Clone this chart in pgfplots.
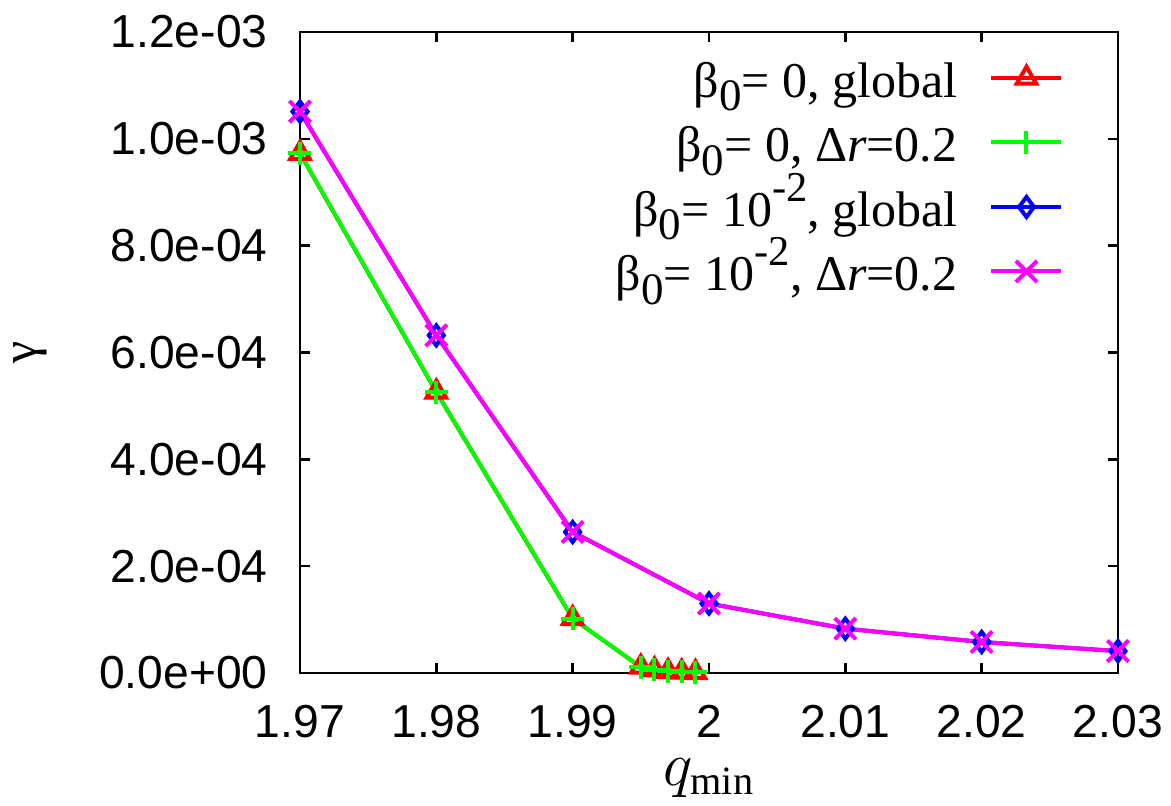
\documentclass[border=0pt]{standalone}
\usepackage{fontspec}
\usepackage{graphicx}
\usepackage{pgfplots}
\pgfplotsset{compat=1.18}
\setmainfont{Liberation Serif}
\newfontfamily\sfont{Liberation Sans}
\newcommand{\lsub}[1]{\raisebox{-5.5pt}{\fontsize{18}{18}\selectfont #1}}
\newcommand{\lsup}[1]{\raisebox{10pt}{\fontsize{17}{17}\selectfont #1}}
\definecolor{gpred}{RGB}{255,0,0}
\definecolor{gpgreen}{RGB}{0,255,0}
\definecolor{gpblue}{RGB}{0,0,255}
\definecolor{gpmag}{RGB}{255,0,255}

\pgfplotstableread{
x y
1.970 0.973e-3
1.980 0.526e-3
1.990 0.102e-3
1.995 1.1e-5
1.996 6e-6
1.997 3e-6
1.998 2e-6
1.999 1e-6
}\betazero

\pgfplotstableread{
x y
1.97 1.051e-3
1.98 0.632e-3
1.99 0.264e-3
2.00 0.130e-3
2.01 0.083e-3
2.02 0.058e-3
2.03 0.041e-3
}\betaone

\begin{document}
\begin{tikzpicture}
\begin{axis}[
  scale only axis, width=327.2pt, height=256.4pt,
  xmin=1.97, xmax=2.03, ymin=0, ymax=1.2e-3,
  xtick={1.97,1.98,1.99,2,2.01,2.02,2.03},
  xticklabels={1.97,1.98,1.99,2,2.01,2.02,2.03},
  ytick={0,2e-4,4e-4,6e-4,8e-4,10e-4,12e-4},
  yticklabels={0.0e+00,2.0e-04,4.0e-04,6.0e-04,8.0e-04,1.0e-03,1.2e-03},
  scaled ticks=false,
  tick align=inside, major tick length=4pt,
  axis line style={line width=1pt},
  every tick/.style={black, line width=1pt},
  tick label style={font=\sfont\fontsize{18.5}{18.5}\selectfont, inner sep=0pt},
  yticklabel style={xshift=-12.8pt},
  xticklabel style={yshift=-12.8pt},
  every axis y label/.style={at={(axis description cs:0,0.5)}, xshift=-108pt, anchor=center, rotate=90, font=\fontsize{20}{20}\selectfont},
  every axis x label/.style={at={(axis description cs:0.5,0)}, yshift=-42pt, anchor=center, font=\fontsize{23}{23}\selectfont},
  xlabel={$q_{\min}$},
  ylabel={γ},
  clip=false,
  legend plot pos=right,
  legend cell align=right,
  legend style={at={(rel axis cs:1,1)}, anchor=north east, xshift=-21.6pt, yshift=-12.5pt,
    draw=none, fill=none, inner sep=0pt, row sep=0pt, column sep=12.8pt,
    font=\fontsize{20}{20}\selectfont,
    nodes={inner sep=0pt, text height=13.4pt, text depth=12.4pt}},
  legend image code/.code={\draw[mark repeat=2,mark phase=2,yshift=7.2pt] plot coordinates {(0pt,0pt)(14pt,0pt)(28pt,0pt)};},
  every axis plot/.append style={line width=1.6pt},
]
\addplot[gpred, mark=triangle, mark size=4.5pt, mark options={solid, line width=1.6pt}] table {\betazero};
\addlegendentry{β\lsub{0}= 0, global}
\addplot[gpgreen, mark=+, mark size=4.6pt, mark options={solid, line width=1.6pt}] table {\betazero};
\addlegendentry{β\lsub{0}= 0, Δ\textit{r}=0.2}
\addplot[gpblue, mark=diamond, mark size=4pt, mark options={solid, line width=1.6pt}] table {\betaone};
\addlegendentry{β\lsub{0}= 10\lsup{-2}, global}
\addplot[gpmag, mark=x, mark size=6pt, mark options={solid, line width=1.6pt}] table {\betaone};
\addlegendentry{β\lsub{0}= 10\lsup{-2}, Δ\textit{r}=0.2}
\end{axis}
\path (current axis.south west) ++(-120pt,-50.8pt) rectangle ++(468.4pt,320pt);
\end{tikzpicture}
\end{document}
